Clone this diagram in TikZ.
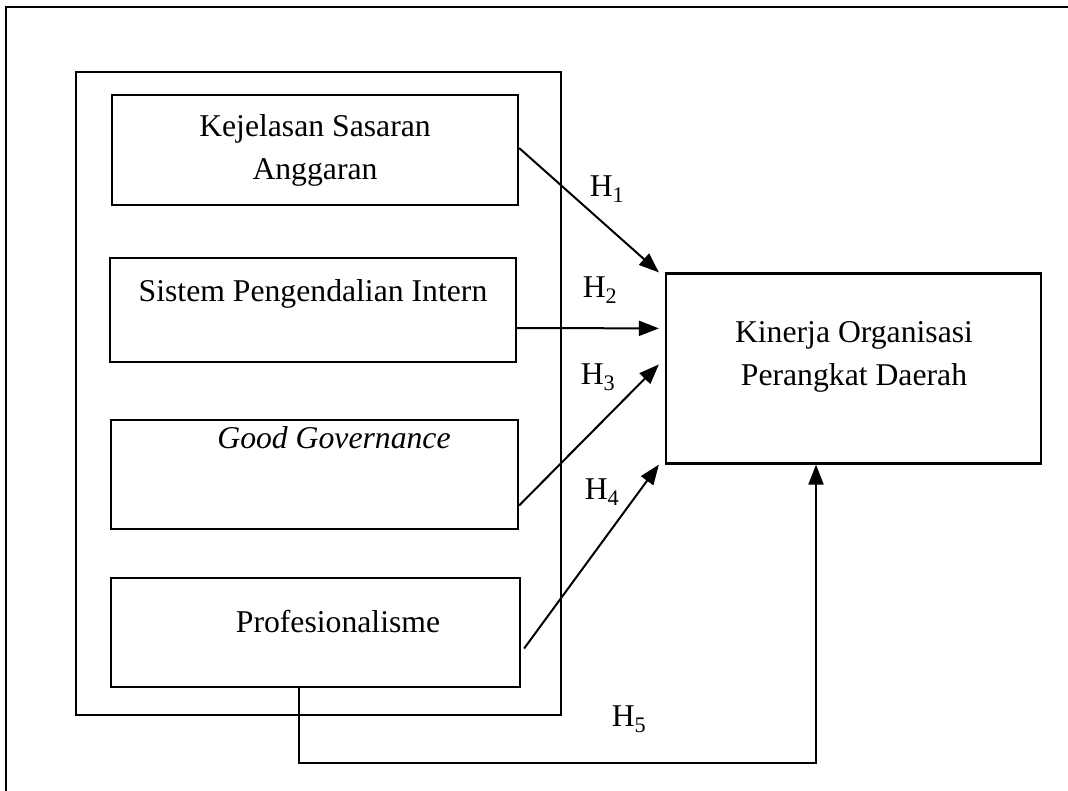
\documentclass[tikz,border=0pt]{standalone}
\usepackage{fontspec}
\setmainfont{Liberation Serif}
\usetikzlibrary{arrows.meta}
\begin{document}
\begin{tikzpicture}[x=1pt,y=-1pt,
  box/.style={draw,line width=2.2pt,inner sep=0pt,minimum width=#1},
  lbl/.style={font=\fontsize{31.7}{43}\selectfont,align=center,inner sep=0pt},
  conn/.style={line width=2pt,-{Triangle[length=20pt,width=15pt]}}]
\useasboundingbox (0,0) rectangle (1068,790);
\draw[line width=2.6pt] (6,800) -- (6,7) -- (1080,7);
\node[draw,line width=1.5pt,minimum width=485pt,minimum height=643pt,inner sep=0pt] (grp) at (318.5,393.5) {};
\node[box=406pt,minimum height=110pt] (b1) at (315,150) {};
\node[box=406pt,minimum height=104pt] (b2) at (313,310) {};
\node[box=407pt,minimum height=109pt] (b3) at (314.5,474.5) {};
\node[box=409pt,minimum height=109pt] (b4) at (315.5,632.5) {};
\node[box=375pt,minimum height=190pt] (t) at (853.5,368.5) {};
\node[lbl] (l1) at (315,150) {Kejelasan Sasaran\\Anggaran};
\node[lbl] (l2) at (313,294) {Sistem Pengendalian Intern};
\node[lbl] (l3) at (334,438) {\itshape Good Governance};
\node[lbl] (l4) at (338,621) {Profesionalisme};
\node[lbl] (lt) at (854,357) {Kinerja Organisasi\\Perangkat Daerah};
\coordinate (t1) at ([xshift=-6pt]t.north west);
\coordinate (t2) at ([xshift=-6pt,yshift=-56pt]t.north west);
\coordinate (t3) at ([xshift=-6pt,yshift=-92pt]t.north west);
\coordinate (t4) at ([xshift=-6pt]t.south west);
\draw[conn] ([yshift=2pt]b1.east) -- (t1);
\draw[conn] ([yshift=-18pt]b2.east) -- (t2);
\draw[conn] ([yshift=-31pt]b3.east) -- (t3);
\draw[conn] ([xshift=3pt,yshift=-16pt]b4.east) -- (t4);
\draw[conn] (b4.south -| 299,0) -- (299,763) -- (816,763) -- (t.south -| 816,0);
\node[lbl] (h1) at (607,189) {H\textsubscript{1}};
\node[lbl] (h2) at (600,290) {H\textsubscript{2}};
\node[lbl] (h3) at (598,377) {H\textsubscript{3}};
\node[lbl] (h4) at (602,492) {H\textsubscript{4}};
\node[lbl] (h5) at (629,719) {H\textsubscript{5}};
\end{tikzpicture}
\end{document}
